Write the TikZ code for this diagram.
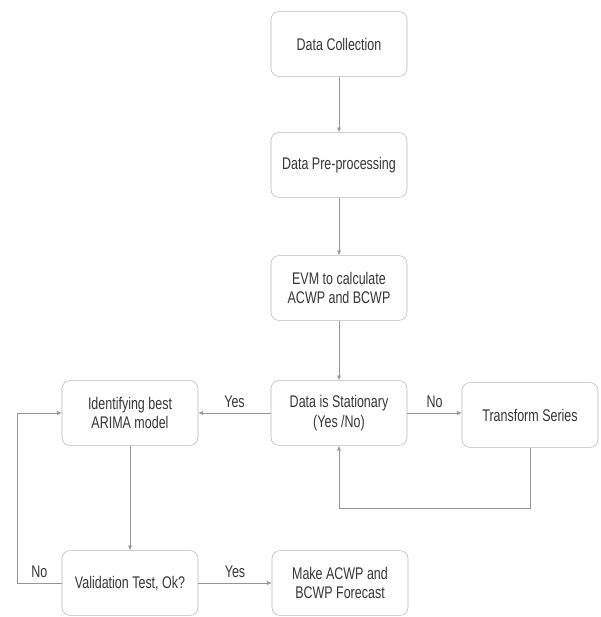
\documentclass[tikz,border=0pt]{standalone}
\usepackage{fontspec}
\setmainfont{Liberation Sans}[FakeStretch=0.74]
\usepackage{tikz}
\usetikzlibrary{arrows.meta}
\definecolor{boxline}{RGB}{185,185,185}
\definecolor{flowline}{RGB}{150,150,150}
\definecolor{boxtext}{RGB}{55,55,55}

\begin{document}
\begin{tikzpicture}[
    x = 0.25mm, y = -0.25mm,
    > = {Latex[length=1.2mm, width=1mm]},
    step box/.style = {draw=boxline, rounded corners=2mm, fill=white,
      minimum width=34mm, minimum height=16.2mm, align=center,
      text=boxtext, font=\fontsize{12}{14}\selectfont},
    flow/.style = {draw=flowline, ->},
    answer/.style = {text=boxtext, font=\fontsize{12}{14}\selectfont}
    ]
    \useasboundingbox (0,0) rectangle (600,617);
    \node[step box] (collect) at (339,44) {Data Collection};
    \node[step box] (prep) at (339,165) {Data Pre-processing};
    \node[step box] (evm) at (339,288) {EVM to calculate\\ACWP and BCWP};
    \node[step box] (stat) at (339,413) {Data is Stationary\\(Yes /No)};
    \node[step box] (trans) at (530,415) {Transform Series};
    \node[step box] (arima) at (130,413) {Identifying best\\ARIMA model};
    \node[step box] (valid) at (130,583) {Validation Test, Ok?};
    \node[step box] (make) at (340,583) {Make ACWP and\\BCWP Forecast};
    \coordinate (back) at (17,583);
    \draw[flow] (collect) -- (prep);
    \draw[flow] (prep) -- (evm);
    \draw[flow] (evm) -- (stat);
    \draw[flow] (stat) -- node[answer, above] {Yes} (arima);
    \draw[flow] (stat) -- node[answer, above] {No} (trans.west |- stat);
    \draw[flow] (trans.south) -- ++(0,61) -| (stat.south);
    \draw[flow] (arima) -- (valid);
    \draw[flow] (valid) -- node[answer, above] {Yes} (make);
    \draw[flow] (valid.west) -- node[answer, above] {No} (back) |- (arima.west);
    \end{tikzpicture}
\end{document}
